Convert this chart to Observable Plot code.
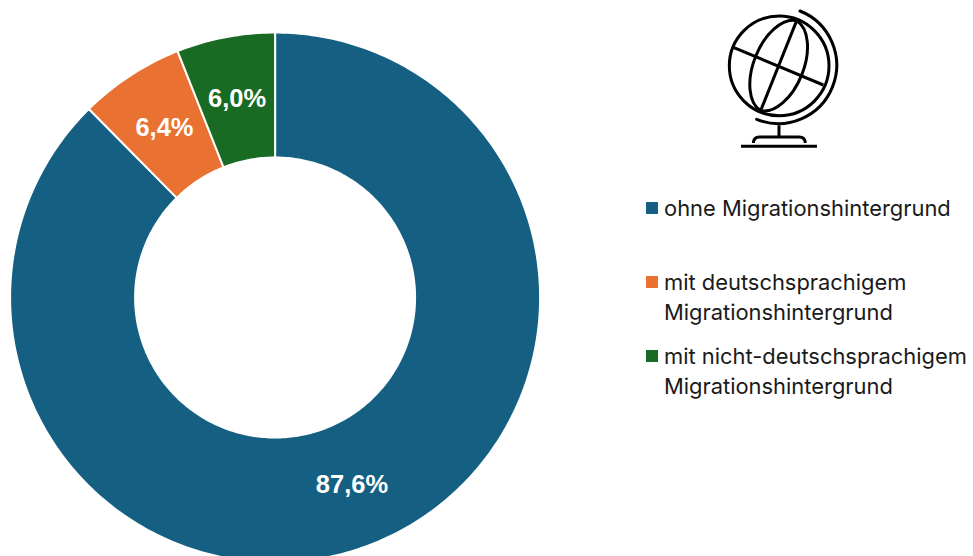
<!DOCTYPE html>
<html lang="de">
<head>
<meta charset="utf-8">
<script src="https://cdn.jsdelivr.net/npm/d3@7"></script>
<script src="https://cdn.jsdelivr.net/npm/@observablehq/plot@0.6"></script>
<style>
html,body{margin:0;padding:0;background:#fff;overflow:hidden}
#page{position:relative;width:973px;height:556px;overflow:hidden}
#chart{position:absolute;left:0;top:0}
#chart svg{display:block}
#globe{position:absolute;left:700px;top:0}
.item{position:absolute;left:664px;font:21.9px/30px "Inter",sans-serif;color:#1a1a1a;white-space:pre-line}
.sw{position:absolute;left:-18px;top:9px;width:12px;height:12px}
</style>
</head>
<body>
<div id="page">
<div id="chart"></div>
<svg id="globe" width="160" height="160" viewBox="0 0 480 480" fill="none" stroke="#000" stroke-width="9">
  <circle cx="237.5" cy="197.5" r="149.5"/>
  <path d="M290 62L182 332M100 142L370 255"/>
  <path d="M290 62A146 82 111.8 0 0 182 332M290 62A146 82 111.8 0 1 182 332"/>
  <path d="M300 33A175 175 0 1 1 170 358" stroke-linecap="round"/>
  <path d="M237 376V411M160 429C161 417 168 411 178 411H298C308 411 315 417 316 429"/>
  <path d="M123 439H351"/>
</svg>
</div>
<script>
const categories = ["ohne Migrationshintergrund", "mit deutschsprachigem\nMigrationshintergrund", "mit nicht-deutschsprachigem\nMigrationshintergrund"];
const shares = [87.6, 6.4, 6.0];
const shareLabels = ["87,6%", "6,4%", "6,0%"];
const colors = ["#156082", "#E97132", "#196B24"];

const R = 265, cx = 274.6, cy = 297, W = 973, H = 556;
const inner = 140 / 265, midR = (1 + inner) / 2;
const pt = (pct, r) => {
  const a = pct / 100 * 2 * Math.PI;
  return [r * Math.sin(a), r * Math.cos(a)];
};

let cum = 0;
const slices = shares.map((v, i) => ({i, cat: categories[i], start: cum, end: (cum += v), mid: cum - v / 2}));

const outline = slices.flatMap(s => {
  const n = Math.ceil((s.end - s.start) * 4);
  const along = d3.range(n + 1).map(k => s.start + (s.end - s.start) * k / n);
  return [...along.map(p => pt(p, 1)), ...along.reverse().map(p => pt(p, inner))]
    .map(([x, y]) => ({x, y, cat: s.cat}));
});

const labels = slices.map(s => {
  const [x, y] = pt(s.mid, midR);
  return {x, y, text: shareLabels[s.i]};
});

const plot = Plot.plot({
  width: W, height: H,
  margin: 0,
  x: {domain: [-cx / R, (W - cx) / R], range: [0, W], axis: null},
  y: {domain: [(H - cy) / -R, cy / R], range: [H, 0], axis: null},
  color: {domain: categories, range: colors},
  marks: [
    Plot.line(outline, {x: "x", y: "y", z: "cat", fill: "cat", stroke: "#fff", strokeWidth: 2, curve: "linear-closed"}),
    Plot.text(labels, {x: "x", y: "y", text: "text", fill: "#fff", fontSize: 25.5, fontWeight: "bold", fontFamily: "Liberation Sans, sans-serif"})
  ]
});
document.getElementById("chart").append(plot);

const tops = [193, 267, 341];
const page = document.getElementById("page");
categories.forEach((c, i) => {
  const d = document.createElement("div");
  d.className = "item";
  d.style.top = tops[i] + "px";
  d.textContent = c;
  const s = document.createElement("span");
  s.className = "sw";
  s.style.background = colors[i];
  d.append(s);
  page.append(d);
});
</script>
</body>
</html>
